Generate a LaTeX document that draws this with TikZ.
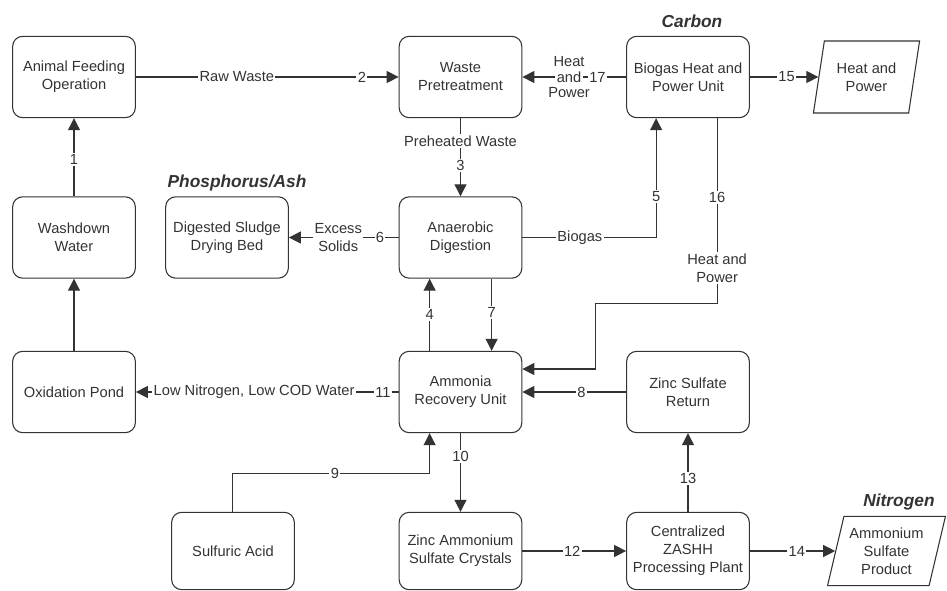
\documentclass[tikz,border=0pt]{standalone}
\usepackage{fontspec}
\setmainfont{Liberation Sans}
\usetikzlibrary{arrows.meta,shapes.geometric,calc}
\definecolor{ink}{gray}{0.2}
\begin{document}
\begin{tikzpicture}[x=0.75pt,y=-0.75pt,
  box/.style={draw=ink,line width=0.8pt,rounded corners=7.5pt,minimum width=92pt,minimum height=61pt,
    align=center,text=ink,font=\fontsize{11}{13.5}\selectfont,inner sep=0pt},
  lowbox/.style={box,minimum height=58pt},
  para/.style={draw=ink,line width=0.8pt,trapezium,trapezium stretches=true,align=center,
    text=ink,font=\fontsize{11}{13.5}\selectfont,inner sep=0pt},
  conn/.style={draw=ink,line width=0.8pt,-{Triangle[length=9pt,width=9pt]}},
  lab/.style={fill=white,inner sep=1pt,text=ink,font=\fontsize{11}{13.5}\selectfont,align=center},
  lab2/.style={inner sep=0pt,label distance=2pt,text=ink,font=\fontsize{11}{13.5}\selectfont},
  heading/.style={font=\fontsize{13}{15}\selectfont\bfseries\itshape,text=ink}]
\useasboundingbox (0,0) rectangle (947,590);

% boxes
\node[box] (afo)  at (74,77)    {Animal Feeding\\Operation};
\node[box] (wp)   at (460.5,77) {Waste\\Pretreatment};
\node[box] (bhp)  at (688,77)   {Biogas Heat and\\Power Unit};
\node[para,trapezium left angle=75,trapezium right angle=105,minimum width=80pt,minimum height=54pt] (hp) at (866.5,77) {Heat and\\Power};
\node[box] (ww)   at (74,237.5) {Washdown\\Water};
\node[box] (dsdb) at (227,237.5) {Digested Sludge\\Drying Bed};
\node[box] (ad)   at (460.5,237.5) {Anaerobic\\Digestion};
\node[box] (op)   at (74,392)   {Oxidation Pond};
\node[box] (aru)  at (460.5,392) {Ammonia\\Recovery Unit};
\node[box] (zsr)  at (688,392)  {Zinc Sulfate\\Return};
\node[lowbox] (sa)   at (233,551)   {Sulfuric Acid};
\node[lowbox] (zasc) at (460.5,551) {Zinc Ammonium\\Sulfate Crystals};
\node[lowbox] (czpp) at (688,551)   {Centralized\\ZASHH\\Processing Plant};
\node[para,trapezium left angle=73,trapezium right angle=107,minimum width=89pt,minimum height=52pt] (asp) at (886.5,551) {Ammonium\\Sulfate\\Product};

% headings
\node[heading] (hc) at (692,21) {Carbon};
\node[heading] (hpa) at (237,183) {Phosphorus/Ash};
\node[heading] (hn) at (899,502) {Nitrogen};

% connectors
\draw[conn] (ww.north) -- node[lab,pos=0.47]{1} (afo.south);
\draw[conn] (op.north) -- (ww.south);
\draw[conn] (afo.east) -- node[lab,pos=0.384]{Raw Waste} node[lab,pos=0.86]{2} (wp.west);
\draw[conn] (bhp.west) -- node[lab,pos=0.276]{17}
  node[lab,pos=0.55,label={[lab2]above:Heat},label={[lab2]below:Power}]{and} (wp.east);
\draw[conn] (bhp.east) -- node[lab,pos=0.535]{15} (hp.left side);
\draw[conn] (wp.south) -- node[lab,pos=0.29]{Preheated Waste} node[lab,pos=0.61]{3} (ad.north);
\draw[conn] (ad.east) -| node[lab,pos=0.215]{Biogas} node[lab,pos=0.672]{5} ($(bhp.south west)+(30,0)$);
\draw[conn] ($(bhp.south west)+(91,0)$) -- node[lab,pos=0.43]{16} node[lab,pos=0.81]{Heat and\\Power} ++(0,185)
  -| ($(aru.east)+(73,-23)$) -- ($(aru.east)+(0,-23)$);
\draw[conn] (ad.west) -- node[lab,pos=0.17]{6} node[lab,pos=0.55]{Excess\\Solids} (dsdb.east);
\draw[conn] ($(aru.north west)+(31,0)$) -- node[lab,pos=0.5]{4} ($(ad.south west)+(31,0)$);
\draw[conn] ($(ad.south west)+(93,0)$) -- node[lab,pos=0.47]{7} ($(aru.north west)+(93,0)$);
\draw[conn] (zsr.west) -- node[lab,pos=0.43]{8} (aru.east);
\draw[conn] (aru.west) -- node[lab,pos=0.06]{11} node[lab,pos=0.55]{Low Nitrogen, Low COD Water} (op.east);
\draw[conn] ($(sa.north west)+(61,0)$) |- node[lab,pos=0.76]{9} ($(aru.south west)+(31,40)$) -- ($(aru.south west)+(31,0)$);
\draw[conn] (aru.south) -- node[lab,pos=0.3]{10} (zasc.north);
\draw[conn] (zasc.east) -- node[lab,pos=0.48]{12} (czpp.west);
\draw[conn] (czpp.north) -- node[lab,pos=0.425]{13} (zsr.south);
\draw[conn] (czpp.east) -- node[lab,pos=0.55]{14} (asp.left side);
\end{tikzpicture}
\end{document}
